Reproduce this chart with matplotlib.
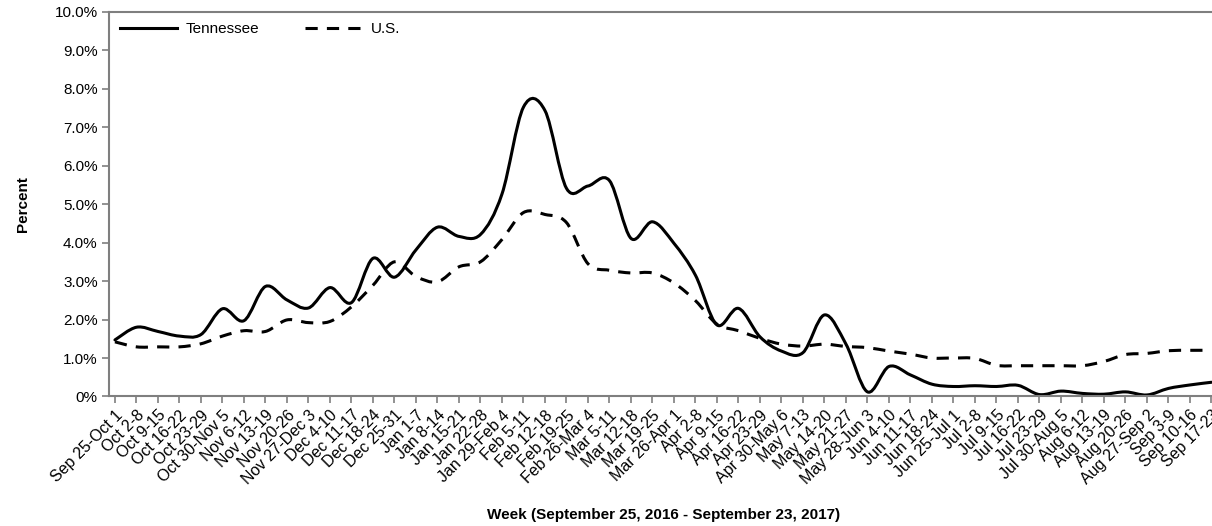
import numpy as np
import matplotlib
matplotlib.use("Agg")
import matplotlib.pyplot as plt
from matplotlib.path import Path
from matplotlib.patches import PathPatch
from matplotlib.lines import Line2D

# =========================
# DATA
# =========================

weeks = [
    "Sep 25-Oct 1", "Oct 2-8", "Oct 9-15", "Oct 16-22", "Oct 23-29", "Oct 30-Nov 5",
    "Nov 6-12", "Nov 13-19", "Nov 20-26", "Nov 27-Dec 3", "Dec 4-10", "Dec 11-17",
    "Dec 18-24", "Dec 25-31", "Jan 1-7", "Jan 8-14", "Jan 15-21", "Jan 22-28",
    "Jan 29-Feb 4", "Feb 5-11", "Feb 12-18", "Feb 19-25", "Feb 26-Mar 4", "Mar 5-11",
    "Mar 12-18", "Mar 19-25", "Mar 26-Apr 1", "Apr 2-8", "Apr 9-15", "Apr 16-22",
    "Apr 23-29", "Apr 30-May 6", "May 7-13", "May 14-20", "May 21-27", "May 28-Jun 3",
    "Jun 4-10", "Jun 11-17", "Jun 18-24", "Jun 25-Jul 1", "Jul 2-8", "Jul 9-15",
    "Jul 16-22", "Jul 23-29", "Jul 30-Aug 5", "Aug 6-12", "Aug 13-19", "Aug 20-26",
    "Aug 27-Sep 2", "Sep 3-9", "Sep 10-16", "Sep 17-23",
]

tennessee = [
    1.47, 1.80, 1.69, 1.57, 1.61, 2.28, 1.97, 2.86, 2.51, 2.30, 2.83, 2.44,
    3.59, 3.10, 3.81, 4.40, 4.16, 4.21, 5.26, 7.52, 7.43, 5.41, 5.47, 5.61,
    4.11, 4.54, 3.98, 3.15, 1.86, 2.29, 1.55, 1.18, 1.14, 2.12, 1.36, 0.12,
    0.78, 0.56, 0.32, 0.26, 0.28, 0.26, 0.29, 0.05, 0.14, 0.08, 0.06, 0.12,
    0.04, 0.21, 0.30, 0.37,
]

us = [
    1.42, 1.29, 1.29, 1.29, 1.37, 1.57, 1.71, 1.69, 1.99, 1.92, 1.95, 2.33,
    2.89, 3.50, 3.12, 2.98, 3.37, 3.50, 4.08, 4.78, 4.73, 4.52, 3.45, 3.28,
    3.21, 3.21, 2.95, 2.49, 1.88, 1.71, 1.51, 1.36, 1.31, 1.36, 1.30, 1.27,
    1.18, 1.10, 1.00, 1.00, 0.99, 0.81, 0.80, 0.80, 0.80, 0.80, 0.91, 1.09,
    1.12, 1.19, 1.20, 1.20,
]

plt.rcParams["font.family"] = ["Liberation Sans", "DejaVu Sans"]


# smoothed line like a spreadsheet chart: cubic bezier through each point
def smooth_path(y):
    y = np.asarray(y, dtype=float)
    x = np.arange(len(y), dtype=float)
    pts = np.column_stack([x, y])
    verts = [pts[0]]
    codes = [Path.MOVETO]
    n = len(pts)
    for i in range(n - 1):
        p0 = pts[max(i - 1, 0)]
        p1 = pts[i]
        p2 = pts[i + 1]
        p3 = pts[min(i + 2, n - 1)]
        c1 = p1 + (p2 - p0) / 6.0
        c2 = p2 - (p3 - p1) / 6.0
        verts += [c1, c2, p2]
        codes += [Path.CURVE4] * 3
    return Path(verts, codes)


# =========================
# PLOT
# =========================

fig = plt.figure(figsize=(12.12, 5.26), dpi=100)
ax = fig.add_axes([0.0903, 0.2462, 0.9146, 0.7316])

ax.add_patch(PathPatch(smooth_path(tennessee), fill=False, edgecolor="black",
                       linewidth=2.2, capstyle="round", joinstyle="round"))
ax.add_patch(PathPatch(smooth_path(us), fill=False, edgecolor="black",
                       linewidth=2.2, linestyle=(0, (4, 3))))

ax.set_xlim(-0.256, 51.3)
ax.set_ylim(0, 10)

ax.set_xticks(range(len(weeks)))
ax.set_xticklabels(weeks, rotation=45, ha="right", rotation_mode="anchor", fontsize=11.5)

yticks = np.arange(0, 11)
ax.set_yticks(yticks)
ax.set_yticklabels(["0%"] + [f"{v:.1f}%" for v in yticks[1:]], fontsize=11)

for s in ax.spines.values():
    s.set_color("#7f7f7f")
    s.set_linewidth(1.5)
ax.tick_params(axis="both", direction="out", length=5, width=1.2, color="#7f7f7f")
ax.tick_params(axis="x", pad=3)

ax.set_ylabel("Percent", fontsize=11, fontweight="bold", labelpad=18)
ax.set_xlabel("Week (September 25, 2016 - September 23, 2017)", fontsize=11,
              fontweight="bold", labelpad=15)

handles = [
    Line2D([], [], color="black", linewidth=2.2),
    Line2D([], [], color="black", linewidth=2.2, linestyle=(0, (4, 3))),
]
ax.legend(handles, ["Tennessee", "U.S."], loc="upper left", ncol=2, frameon=False,
          fontsize=11, handlelength=3.7, handletextpad=0.6, columnspacing=3.0,
          borderaxespad=0.3)

fig.savefig("out.png", dpi=100)
